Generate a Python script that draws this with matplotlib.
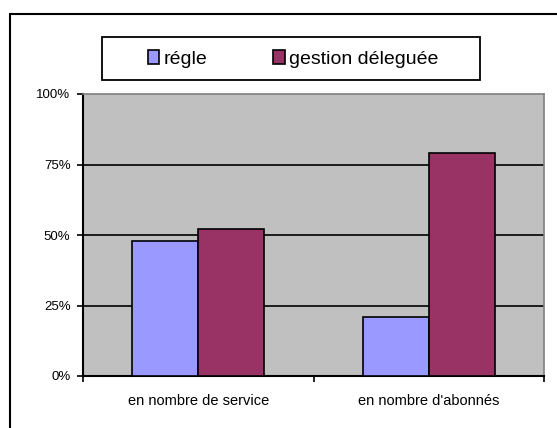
import matplotlib
matplotlib.use('Agg')
import matplotlib.pyplot as plt
import matplotlib.patches as patches
import numpy as np

categories = ['en nombre de service', "en nombre d'abonnés"]
regie = [48, 21]
gestion = [52, 79]
series_names = ['régle', 'gestion déleguée']
yticks = [0, 25, 50, 75, 100]
ytick_labels = ['0%', '25%', '50%', '75%', '100%']

plt.rcParams['font.family'] = ['Liberation Sans', 'DejaVu Sans']

W, H = 557, 428
fig = plt.figure(figsize=(W / 100, H / 100), dpi=100)
ax = fig.add_axes([83 / W, 1 - 376 / H, (544 - 83) / W, (376 - 94) / H])

x = np.arange(len(categories))
w = 0.287
ax.bar(x - w/2, regie, w, color='#9999FF', edgecolor='black', linewidth=1.2,
       label=series_names[0], zorder=3)
ax.bar(x + w/2, gestion, w, color='#993366', edgecolor='black', linewidth=1.2,
       label=series_names[1], zorder=3)

ax.set_facecolor('#C0C0C0')
ax.set_xlim(-0.5, 1.5)
ax.set_ylim(0, 100)
ax.set_yticks(yticks)
ax.set_yticklabels(ytick_labels, fontsize=9.5)
for t in [25, 50, 75]:
    ax.axhline(t, color='black', linewidth=1.2, zorder=2)

ax.set_xticks(x)
ax.set_xticklabels(categories, fontsize=10.5)
ax.set_xticks([-0.5, 0.5, 1.5], minor=True)
ax.tick_params(axis='x', which='major', length=0, pad=13)
ax.tick_params(axis='x', which='minor', length=4, width=1.2, direction='out')
ax.tick_params(axis='y', length=4, width=1.2, direction='out', pad=5)

for side in ['top', 'right']:
    ax.spines[side].set_color('#808080')
    ax.spines[side].set_linewidth(1.2)
for side in ['left', 'bottom']:
    ax.spines[side].set_color('black')
    ax.spines[side].set_linewidth(1.5)

# legend box drawn by hand, legend entries centred in it
fig.patches.append(patches.Rectangle((102 / W, 1 - 80 / H), 378 / W, 43 / H,
                                     transform=fig.transFigure, fill=False,
                                     edgecolor='black', linewidth=1.3))
fig.legend(loc='center', bbox_to_anchor=(293 / W, 1 - 59 / H),
           ncol=2, fontsize=14, frameon=False,
           handlelength=0.6, handleheight=0.7, handletextpad=0.2,
           columnspacing=3.4)

# outer frame of the chart
fig.patches.append(patches.Rectangle((10 / W, -0.05), 1.0, 1 - 14 / H + 0.05,
                                     transform=fig.transFigure, fill=False,
                                     edgecolor='black', linewidth=1.5))

fig.savefig('out.png', dpi=100)
